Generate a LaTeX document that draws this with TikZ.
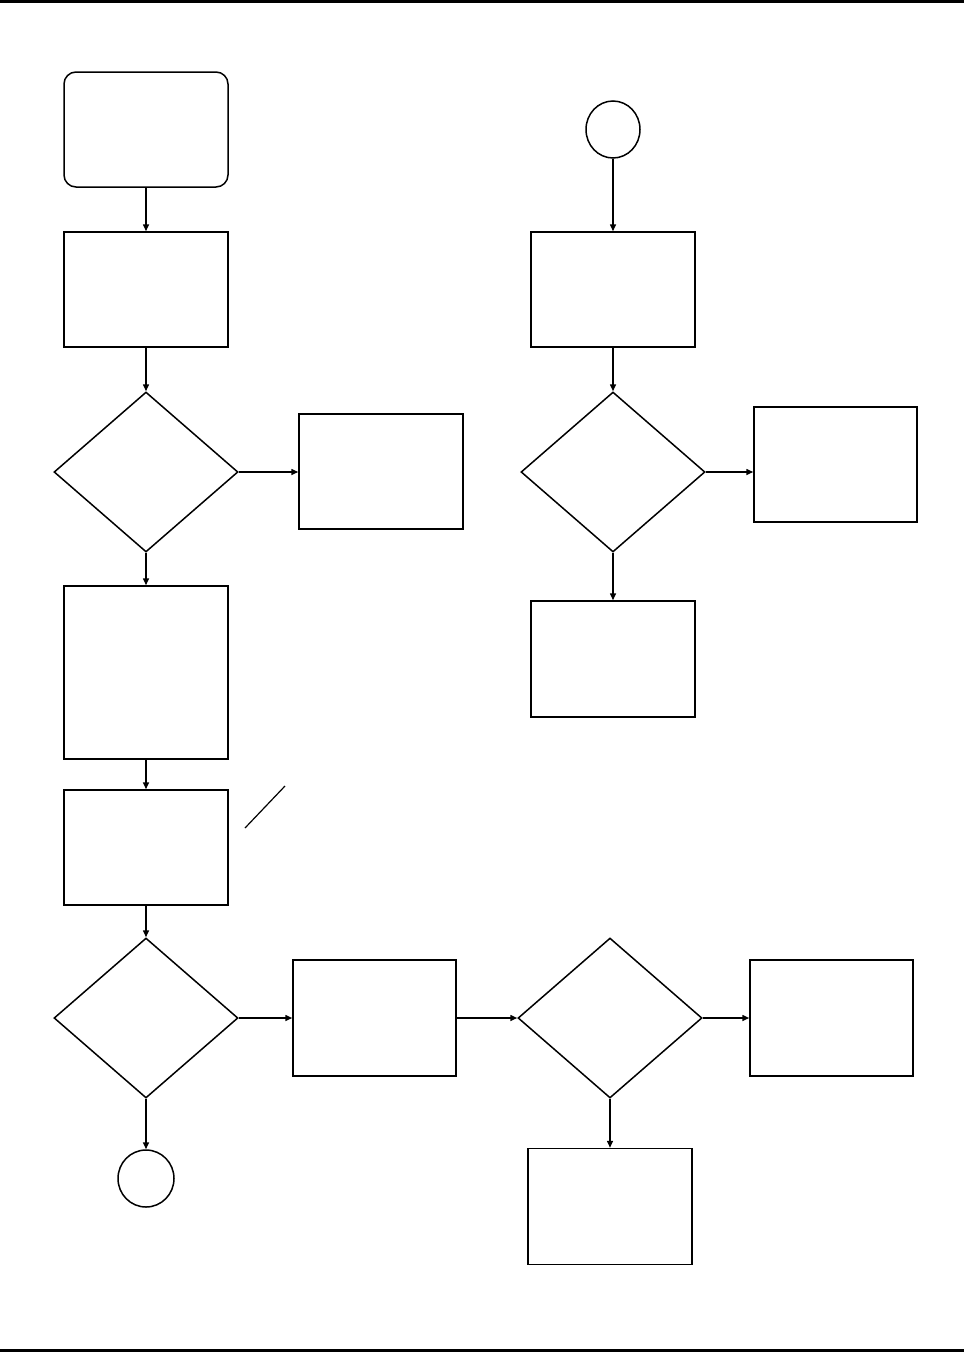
\documentclass[tikz,border=0pt]{standalone}
\usetikzlibrary{shapes.geometric,arrows.meta}
\begin{document}
\begin{tikzpicture}[x=1pt,y=-1pt,
  box/.style={draw,line width=1.5pt,rectangle,inner sep=0pt,minimum width=164pt,minimum height=115pt},
  startbox/.style={box,rounded corners=12pt},
  decision/.style={draw,line width=1.5pt,diamond,inner sep=0pt,minimum width=184pt,minimum height=160pt},
  term/.style={draw,line width=1.5pt,ellipse,inner sep=0pt},
  flow/.style={line width=1.5pt,-{Triangle[length=7pt,width=6pt]}},
  rule/.style={fill=black}]
\useasboundingbox (0,0) rectangle (964,1352);
\fill[rule] (0,0) rectangle (964,2.5);
\fill[rule] (0,1349) rectangle (964,1352);
% left column
\node[startbox] (s) at (146,129.5) {};
\node[box] (a) at (146,289.5) {};
\node[decision] (d1) at (146,472) {};
\node[box] (b) at (381,471.5) {};
\node[box,minimum height=173pt] (c) at (146,672.5) {};
\node[box] (e) at (146,847.5) {};
\node[decision] (d2) at (146,1018) {};
\node[term,minimum width=56pt,minimum height=57pt] (t1) at (146,1178.5) {};
\node[box,minimum width=163pt,minimum height=116pt] (f) at (374.5,1018) {};
\node[decision] (d3) at (610,1018) {};
\node[box,minimum width=163pt,minimum height=116pt] (g) at (831.5,1018) {};
\node[box,minimum height=116pt] (h) at (610,1206.5) {};
% right column
\node[term,minimum width=54pt,minimum height=57pt] (t0) at (613,129.5) {};
\node[box] (i) at (613,289.5) {};
\node[decision] (d4) at (613,472) {};
\node[box,minimum width=163pt] (j) at (835.5,464.5) {};
\node[box,minimum height=116pt] (k) at (613,659) {};
% annotation stroke
\coordinate (n1) at (245,828);
\coordinate (n2) at (285,786);
\draw[line width=1.2pt] (n1) -- (n2);
% connectors
\draw[flow] (s) -- (a);
\draw[flow] (a) -- (d1);
\draw[flow] (d1.east) -- (d1.east -| b.west);
\draw[flow] (d1) -- (c);
\draw[flow] (c) -- (e);
\draw[flow] (e) -- (d2);
\draw[flow] (d2.east) -- (f.west);
\draw[flow] (d2) -- (t1);
\draw[flow] (f.east) -- (d3.west);
\draw[flow] (d3.east) -- (g.west);
\draw[flow] (d3) -- (h);
\draw[flow] (t0) -- (i);
\draw[flow] (i) -- (d4);
\draw[flow] (d4.east) -- (d4.east -| j.west);
\draw[flow] (d4) -- (k);
\end{tikzpicture}
\end{document}
